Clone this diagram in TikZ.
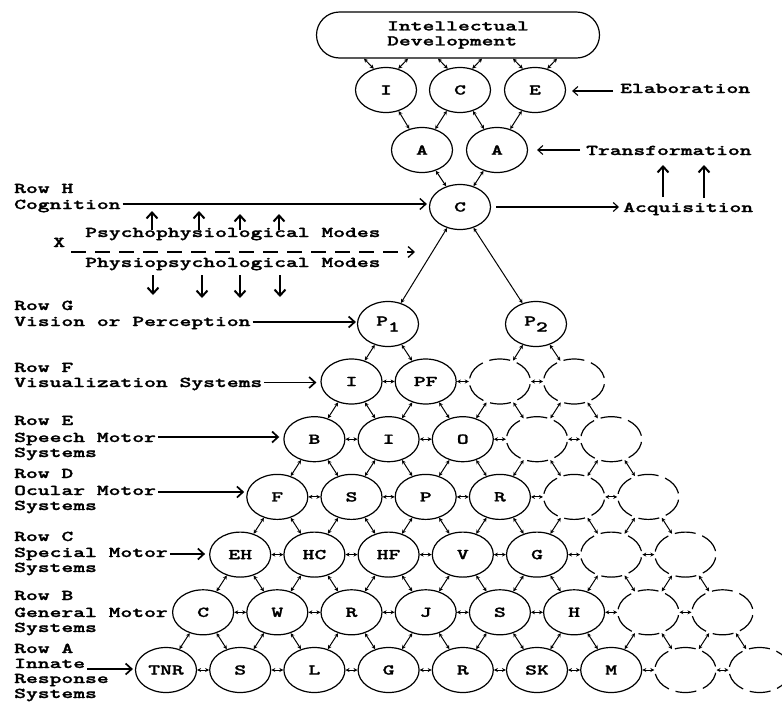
\documentclass[tikz,border=0pt]{standalone}
\usepackage{fontspec}
\usepackage{graphicx}
\usetikzlibrary{arrows.meta,calc,shapes.geometric}
\newfontfamily\twf{lmmonolt10-bold.otf}[FakeBold=1.2]
\newcommand{\tw}[1]{\scalebox{1.5}[1]{#1}}
\tikzset{
  cell/.style={ellipse, draw, line width=1.2pt, minimum width=61pt, minimum height=45pt, inner sep=0pt},
  ghost/.style={ellipse, draw, line width=1.2pt, minimum width=61pt, minimum height=45pt, inner sep=0pt, dash pattern=on 21pt off 7pt, dash phase=24.5pt},
  link/.style={{Stealth[length=4pt,width=4pt]}-{Stealth[length=4pt,width=4pt]}, line width=1pt},
  lbl/.style={anchor=base west, inner sep=0pt},
  bigarrow/.style={-{Straight Barb[length=6pt,width=11pt]}, line width=1.7pt},
  thinarrow/.style={-{Straight Barb[length=5pt,width=9pt]}, line width=1.1pt},
  heavy/.style={-{Straight Barb[length=6pt,width=11pt]}, line width=2pt},
}
\begin{document}
\begin{tikzpicture}[x=1pt,y=-1pt, every node/.style={font=\fontsize{15}{15}\selectfont\twf}]
\useasboundingbox (0,0) rectangle (782,702);

% ---------- top part ----------
\node[draw, line width=1.2pt, rounded corners=23pt, minimum width=283pt, minimum height=46pt, align=left, inner sep=0pt] (top) at (458,35) {\tw{Intellectual}\\\tw{Development}};
\node[cell] (tI) at (386,90) {\tw{I}};
\node[cell] (tC) at (460,90) {\tw{C}};
\node[cell] (tE) at (535,90) {\tw{E}};
\node[cell] (aL) at (422,150) {\tw{A}};
\node[cell] (aR) at (497,150) {\tw{A}};
\node[cell] (cH) at (460,207) {\tw{C}};
\node[cell] (n-6-0) at (388,324) {\tw{P\raisebox{-6pt}{1}}};
\node[cell] (n-6-2) at (536,324) {\tw{P\raisebox{-6pt}{2}}};

\foreach \n in {tI,tC,tE}{
  \draw[link] (\n.120) -- ($(\n |- top.south)+(-22,0)$);
  \draw[link] (\n.60) -- ($(\n |- top.south)+(22,0)$);
}
\draw[link] (aL) -- (tI);
\draw[link] (aL) -- (tC);
\draw[link] (aR) -- (tC);
\draw[link] (aR) -- (tE);
\draw[link] (cH) -- (aL);
\draw[link] (cH) -- (aR);
\draw[link] (cH) -- (n-6-0);
\draw[link] (cH) -- (n-6-2);

% ---------- grid ----------
\foreach \r/\labs in {0/{TNR,S,L,G,R,SK,M},1/{C,W,R,J,S,H},2/{EH,HC,HF,V,G},3/{F,S,P,R},4/{B,I,O},5/{I,PF}}{
  \foreach \lab [count=\k from 0] in \labs {
    \node[cell] (n-\r-\k) at ({166+37.1*\r+74.2*\k},{670-57.7*\r}) {\tw{\lab}};
  }
  \foreach \q in {1,2}{
    \pgfmathtruncatemacro\ka{6+\q-\r}
    \node[ghost] (n-\r-\ka) at ({166+37.1*\r+74.2*\ka},{670-57.7*\r}) {};
  }
}
% horizontal links
\foreach \r in {0,...,5}{
  \pgfmathtruncatemacro\m{7-\r}
  \foreach \k in {0,...,\m}{
    \pgfmathtruncatemacro\kk{\k+1}
    \draw[link] (n-\r-\k) -- (n-\r-\kk);
  }
}
% diagonal links
\foreach \r in {0,...,4}{
  \pgfmathtruncatemacro\rr{\r+1}
  \pgfmathtruncatemacro\m{7-\r}
  \foreach \j in {0,...,\m}{
    \pgfmathtruncatemacro\jj{\j+1}
    \draw[link] (n-\r-\j) -- (n-\rr-\j);
    \draw[link] (n-\r-\jj) -- (n-\rr-\j);
  }
}
\draw[link] (n-5-0) -- (n-6-0);
\draw[link] (n-5-1) -- (n-6-0);
\draw[link] (n-5-2) -- (n-6-2);
\draw[link] (n-5-3) -- (n-6-2);

% ---------- left labels ----------
\node[lbl] (lHa) at (14,193) {\tw{Row H}};
\node[lbl] (lHb) at (14,209) {\tw{Cognition}};
\node[lbl] (lPs) at (85,237) {\tw{Psychophysiological Modes}};
\node[lbl] (lX)  at (53,247) {\tw{X}};
\node[lbl] (lPh) at (85,267) {\tw{Physiopsychological Modes}};
\node[lbl] (lGa) at (14,310) {\tw{Row G}};
\node[lbl] (lGb) at (14,326) {\tw{Vision or Perception}};
\node[lbl] (lFa) at (14,372) {\tw{Row F}};
\node[lbl] (lFb) at (14,387) {\tw{Visualization Systems}};
\node[lbl] (lEa) at (14,425) {\tw{Row E}};
\node[lbl] (lEb) at (14,442) {\tw{Speech Motor}};
\node[lbl] (lEc) at (14,457) {\tw{Systems}};
\node[lbl] (lDa) at (14,478) {\tw{Row D}};
\node[lbl] (lDb) at (14,495) {\tw{Ocular Motor}};
\node[lbl] (lDc) at (14,510) {\tw{Systems}};
\node[lbl] (lCa) at (14,541) {\tw{Row C}};
\node[lbl] (lCb) at (14,557) {\tw{Special Motor}};
\node[lbl] (lCc) at (14,572) {\tw{Systems}};
\node[lbl] (lBa) at (14,600) {\tw{Row B}};
\node[lbl] (lBb) at (14,617) {\tw{General Motor}};
\node[lbl] (lBc) at (14,632) {\tw{Systems}};
\node[lbl] (lAa) at (14,653) {\tw{Row A}};
\node[lbl] (lAb) at (14,668) {\tw{Innate}};
\node[lbl] (lAc) at (14,683) {\tw{Response}};
\node[lbl] (lAd) at (14,698) {\tw{Systems}};

\coordinate (sH) at ($(lHb.base east)+(2,-5)$);
\draw[bigarrow, line width=1.4pt, shorten >=2pt] (sH) -- (sH -| cH.west);
\coordinate (sG) at ($(lGb.base east)+(2,-4)$);
\draw[bigarrow, shorten >=1pt] (sG) -- (sG -| n-6-0.west);
\coordinate (sF) at ($(lFb.base east)+(2,-4.5)$);
\draw[bigarrow, shorten >=4pt] (sF) -- (sF -| n-5-0.west);
\coordinate (sE) at ($(lEb.base east)+(2,-5)$);
\draw[bigarrow, shorten >=4pt] (sE) -- (sE -| n-4-0.west);
\coordinate (sD) at ($(lDb.base east)+(2,-3)$);
\draw[bigarrow, shorten >=2pt] (sD) -- (sD -| n-3-0.west);
\coordinate (sC) at ($(lCb.base east)+(2,-3)$);
\draw[bigarrow, shorten >=4pt] (sC) -- (sC -| n-2-0.west);
\coordinate (sA) at ($(lAb.base east)+(2,1)$);
\draw[bigarrow, shorten >=2pt] (sA) -- (sA -| n-0-0.west);

% modes arrows
\coordinate (xs) at ($(lX.base east)+(6,5)$);
\coordinate (xe) at (415,252);
\draw[-{Straight Barb[length=6pt,width=11pt]}, line width=1.3pt, dash pattern=on 15pt off 9pt] (xs) -- (xe);
\foreach \x/\t [count=\i] in {152/211,199/211,240/214,279/214}{
  \coordinate (ub\i) at (\x,230);
  \coordinate (ut\i) at (\x,\t);
  \draw[heavy] (ub\i) -- (ut\i);
}
\foreach \x/\b [count=\i] in {153/295,202/298,240/298,280/297}{
  \coordinate (dt\i) at (\x,275);
  \coordinate (db\i) at (\x,\b);
  \draw[heavy] (dt\i) -- (db\i);
}

% ---------- right labels ----------
\node[lbl] (lEl) at (620,93) {\tw{Elaboration}};
\node[lbl] (lTr) at (586,155) {\tw{Transformation}};
\node[lbl] (lAq) at (623,212) {\tw{Acquisition}};
\coordinate (sEl) at ($(lEl.base west)+(-7,-2)$);
\draw[thinarrow, shorten >=6pt] (sEl) -- (sEl -| tE.east);
\coordinate (sTr) at ($(lTr.base west)+(-6,-5)$);
\draw[thinarrow, shorten >=9pt] (sTr) -- (sTr -| aR.east);
\coordinate (sAq) at ($(lAq.base west)+(-4,-5)$);
\draw[thinarrow, shorten <=5pt] (sAq -| cH.east) -- (sAq);
\coordinate (rb1) at (663,197);
\coordinate (rt1) at (663,165);
\coordinate (rb2) at (704,198);
\coordinate (rt2) at (704,165);
\draw[heavy] (rb1) -- (rt1);
\draw[heavy] (rb2) -- (rt2);
\end{tikzpicture}
\end{document}
